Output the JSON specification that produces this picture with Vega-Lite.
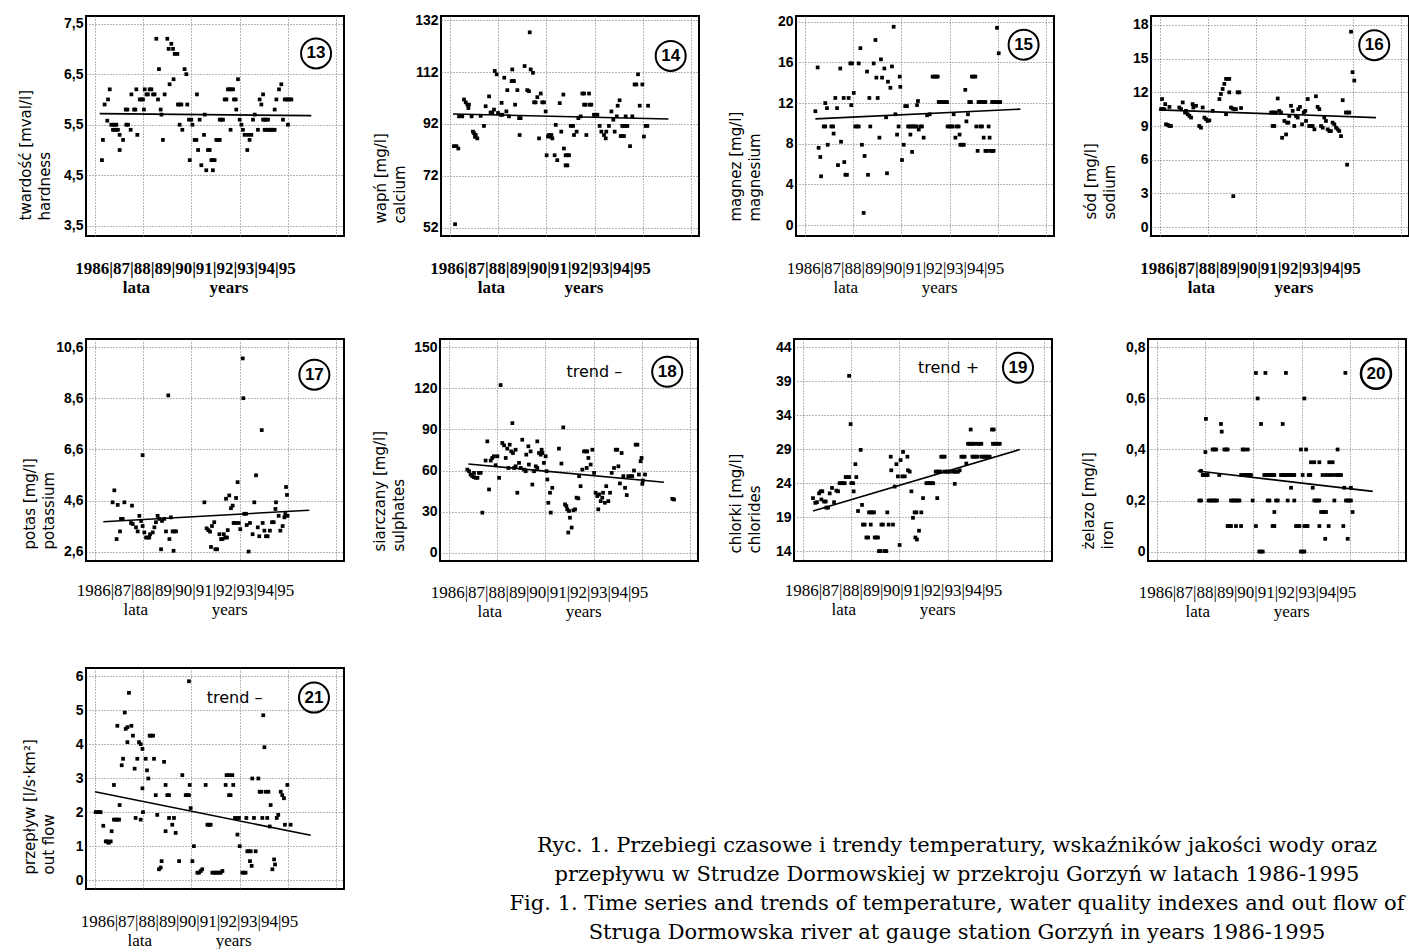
{
"$schema": "https://vega.github.io/schema/vega-lite/v6.json",
"background": "white",
"padding": {"left": 17, "top": 12, "right": 0, "bottom": 0},
"spacing": 42,
"config": {
  "view": {"stroke": "black", "strokeWidth": 2},
  "axis": {"gridColor": "#6f6f6f", "gridDash": [1, 2], "gridWidth": 1, "ticks": false, "domain": false, "labelColor": "black", "titleColor": "black", "labelOverlap": false, "labelFlush": false},
  "axisX": {"labels": false, "titleFont": "Liberation Serif", "titleFontSize": 17, "titleFontWeight": "normal", "titleX": 99, "titleY": 37, "titleAlign": "center", "titleBaseline": "alphabetic", "titleLineHeight": 19},
  "axisY": {"labelFont": "Liberation Sans Narrow, Liberation Sans", "labelFontSize": 14, "labelFontWeight": "bold", "labelPadding": 3, "labelOverlap": false, "titleFont": "DejaVu Sans", "titleFontSize": 15, "titleFontWeight": "normal", "titleAngle": 270, "titleAlign": "left", "titleBaseline": "alphabetic", "titleX": -56, "titleY": 204, "titleLineHeight": 19}
},
"datasets": {
"p13": [{"t":1986.05,"v":4.8},{"t":1986.10,"v":5.2},{"t":1986.19,"v":5.9},{"t":1986.33,"v":5.58},{"t":1986.37,"v":6.0},{"t":1986.46,"v":6.2},{"t":1986.54,"v":5.5},{"t":1986.63,"v":5.5},{"t":1986.72,"v":5.5},{"t":1986.81,"v":5.5},{"t":1986.63,"v":5.4},{"t":1986.72,"v":5.4},{"t":1986.81,"v":5.4},{"t":1986.89,"v":5.4},{"t":1986.98,"v":5.3},{"t":1987.16,"v":5.2},{"t":1986.98,"v":5.0},{"t":1987.30,"v":5.8},{"t":1987.39,"v":5.8},{"t":1987.33,"v":5.5},{"t":1987.42,"v":5.5},{"t":1987.56,"v":5.4},{"t":1987.60,"v":6.1},{"t":1987.86,"v":6.2},{"t":1987.74,"v":5.8},{"t":1987.81,"v":5.8},{"t":1987.91,"v":5.3},{"t":1988.04,"v":6.0},{"t":1988.12,"v":6.0},{"t":1988.21,"v":6.0},{"t":1988.26,"v":5.8},{"t":1988.30,"v":6.2},{"t":1988.39,"v":6.1},{"t":1988.47,"v":6.1},{"t":1988.56,"v":6.2},{"t":1988.65,"v":6.2},{"t":1988.74,"v":6.1},{"t":1988.82,"v":6.1},{"t":1988.91,"v":7.2},{"t":1989.00,"v":6.0},{"t":1989.05,"v":6.6},{"t":1989.14,"v":5.8},{"t":1989.18,"v":5.7},{"t":1989.26,"v":5.2},{"t":1989.35,"v":6.1},{"t":1989.49,"v":7.2},{"t":1989.56,"v":7.0},{"t":1989.70,"v":7.1},{"t":1989.79,"v":7.0},{"t":1989.88,"v":6.9},{"t":1990.02,"v":6.9},{"t":1989.61,"v":6.3},{"t":1989.82,"v":6.4},{"t":1990.05,"v":5.9},{"t":1990.14,"v":5.9},{"t":1990.23,"v":5.9},{"t":1990.14,"v":5.5},{"t":1990.28,"v":5.4},{"t":1990.40,"v":6.6},{"t":1990.49,"v":6.5},{"t":1990.54,"v":5.9},{"t":1990.63,"v":5.6},{"t":1990.75,"v":5.6},{"t":1990.67,"v":4.8},{"t":1990.81,"v":5.5},{"t":1990.93,"v":5.2},{"t":1991.02,"v":5.2},{"t":1991.05,"v":6.1},{"t":1991.11,"v":5.0},{"t":1991.19,"v":5.6},{"t":1991.28,"v":4.7},{"t":1991.42,"v":5.3},{"t":1991.46,"v":5.7},{"t":1991.54,"v":4.6},{"t":1991.63,"v":5.0},{"t":1991.72,"v":5.0},{"t":1991.81,"v":4.8},{"t":1991.89,"v":4.8},{"t":1991.98,"v":4.8},{"t":1991.89,"v":4.6},{"t":1992.07,"v":5.2},{"t":1992.16,"v":5.2},{"t":1992.25,"v":5.2},{"t":1992.25,"v":5.6},{"t":1992.33,"v":5.6},{"t":1992.42,"v":5.6},{"t":1992.51,"v":6.0},{"t":1992.60,"v":6.0},{"t":1992.68,"v":6.2},{"t":1992.77,"v":6.2},{"t":1992.86,"v":6.2},{"t":1992.95,"v":6.2},{"t":1992.82,"v":5.4},{"t":1993.00,"v":6.0},{"t":1993.09,"v":6.0},{"t":1993.12,"v":5.8},{"t":1993.21,"v":6.4},{"t":1993.30,"v":5.6},{"t":1993.39,"v":5.5},{"t":1993.47,"v":5.4},{"t":1993.56,"v":5.3},{"t":1993.70,"v":5.0},{"t":1993.74,"v":5.3},{"t":1993.82,"v":5.2},{"t":1993.91,"v":5.3},{"t":1994.00,"v":5.6},{"t":1994.09,"v":5.7},{"t":1994.26,"v":5.4},{"t":1994.35,"v":6.0},{"t":1994.44,"v":5.9},{"t":1994.53,"v":6.1},{"t":1994.53,"v":5.6},{"t":1994.61,"v":5.6},{"t":1994.70,"v":5.6},{"t":1994.79,"v":5.6},{"t":1994.61,"v":5.4},{"t":1994.70,"v":5.4},{"t":1994.79,"v":5.4},{"t":1994.88,"v":5.4},{"t":1994.96,"v":5.4},{"t":1995.05,"v":5.4},{"t":1995.14,"v":5.4},{"t":1995.14,"v":5.8},{"t":1995.23,"v":6.0},{"t":1995.37,"v":6.2},{"t":1995.49,"v":6.3},{"t":1995.58,"v":5.6},{"t":1995.67,"v":6.0},{"t":1995.75,"v":6.0},{"t":1995.84,"v":6.0},{"t":1995.93,"v":6.0},{"t":1996.02,"v":6.0},{"t":1995.84,"v":5.5}],
"r13": [{"t":1985.93,"v":5.72},{"t":1997.07,"v":5.68}],
"p14": [{"t":1985.89,"v":83.4},{"t":1986.02,"v":83.4},{"t":1986.12,"v":82.5},{"t":1985.95,"v":53.3},{"t":1986.16,"v":94.9},{"t":1986.33,"v":94.9},{"t":1986.42,"v":101.4},{"t":1986.51,"v":100.3},{"t":1986.60,"v":99.4},{"t":1986.68,"v":99.4},{"t":1986.65,"v":98.1},{"t":1986.82,"v":94.9},{"t":1986.89,"v":89.0},{"t":1986.95,"v":88.4},{"t":1987.04,"v":87.7},{"t":1987.12,"v":86.4},{"t":1987.00,"v":87.0},{"t":1987.30,"v":95.1},{"t":1987.47,"v":91.2},{"t":1987.56,"v":98.8},{"t":1987.74,"v":102.6},{"t":1987.82,"v":96.4},{"t":1987.91,"v":96.2},{"t":1988.00,"v":97.5},{"t":1988.04,"v":112.4},{"t":1988.14,"v":111.1},{"t":1988.21,"v":96.2},{"t":1988.35,"v":95.5},{"t":1988.44,"v":95.5},{"t":1988.40,"v":100.1},{"t":1988.54,"v":109.8},{"t":1988.65,"v":96.8},{"t":1988.70,"v":105.0},{"t":1988.79,"v":94.9},{"t":1988.93,"v":108.5},{"t":1989.00,"v":108.5},{"t":1989.05,"v":108.5},{"t":1988.96,"v":113.0},{"t":1989.11,"v":99.4},{"t":1989.23,"v":105.0},{"t":1989.32,"v":94.2},{"t":1989.40,"v":94.2},{"t":1989.35,"v":87.7},{"t":1989.61,"v":114.3},{"t":1989.75,"v":105.0},{"t":1989.84,"v":104.6},{"t":1989.88,"v":127.3},{"t":1989.93,"v":113.0},{"t":1990.05,"v":111.7},{"t":1990.11,"v":100.3},{"t":1990.19,"v":100.3},{"t":1990.28,"v":102.3},{"t":1990.37,"v":86.4},{"t":1990.46,"v":103.7},{"t":1990.54,"v":100.3},{"t":1990.63,"v":100.3},{"t":1990.72,"v":96.8},{"t":1990.77,"v":79.9},{"t":1990.84,"v":87.1},{"t":1990.89,"v":87.7},{"t":1990.95,"v":87.1},{"t":1991.02,"v":87.7},{"t":1991.07,"v":86.4},{"t":1991.19,"v":79.9},{"t":1991.25,"v":91.6},{"t":1991.33,"v":78.0},{"t":1991.46,"v":100.0},{"t":1991.54,"v":89.0},{"t":1991.65,"v":103.3},{"t":1991.68,"v":82.5},{"t":1991.77,"v":79.9},{"t":1991.86,"v":79.9},{"t":1991.95,"v":79.9},{"t":1991.77,"v":76.0},{"t":1991.86,"v":76.0},{"t":1992.04,"v":91.2},{"t":1992.16,"v":91.2},{"t":1992.21,"v":87.7},{"t":1992.35,"v":89.0},{"t":1992.44,"v":94.2},{"t":1992.56,"v":94.9},{"t":1992.65,"v":103.7},{"t":1992.74,"v":103.7},{"t":1992.74,"v":99.4},{"t":1992.82,"v":99.4},{"t":1992.86,"v":87.7},{"t":1993.00,"v":103.7},{"t":1993.04,"v":99.4},{"t":1993.12,"v":99.4},{"t":1993.26,"v":95.5},{"t":1993.35,"v":95.5},{"t":1993.44,"v":95.5},{"t":1993.56,"v":91.2},{"t":1993.65,"v":89.0},{"t":1993.79,"v":87.7},{"t":1993.88,"v":86.4},{"t":1993.91,"v":89.0},{"t":1994.05,"v":91.2},{"t":1994.18,"v":96.8},{"t":1994.28,"v":93.6},{"t":1994.35,"v":89.0},{"t":1994.46,"v":94.9},{"t":1994.51,"v":99.0},{"t":1994.61,"v":101.1},{"t":1994.67,"v":87.3},{"t":1994.75,"v":87.3},{"t":1994.84,"v":87.3},{"t":1994.75,"v":91.2},{"t":1994.84,"v":91.2},{"t":1994.93,"v":91.2},{"t":1995.02,"v":91.2},{"t":1994.93,"v":94.9},{"t":1995.16,"v":83.4},{"t":1995.28,"v":94.9},{"t":1995.40,"v":107.2},{"t":1995.49,"v":107.2},{"t":1995.58,"v":111.1},{"t":1995.67,"v":99.0},{"t":1995.81,"v":107.2},{"t":1995.89,"v":87.1},{"t":1995.98,"v":91.2},{"t":1996.07,"v":91.2},{"t":1996.11,"v":99.0}],
"r14": [{"t":1985.84,"v":95.8},{"t":1997.18,"v":93.9}],
"p15": [{"t":1986.23,"v":11.2},{"t":1986.35,"v":15.5},{"t":1986.40,"v":7.6},{"t":1986.49,"v":6.7},{"t":1986.53,"v":4.8},{"t":1986.67,"v":9.7},{"t":1986.75,"v":9.7},{"t":1986.75,"v":12.0},{"t":1986.84,"v":11.5},{"t":1986.88,"v":7.9},{"t":1987.07,"v":9.7},{"t":1987.16,"v":9.7},{"t":1987.19,"v":9.0},{"t":1987.28,"v":12.5},{"t":1987.37,"v":11.5},{"t":1987.42,"v":5.9},{"t":1987.54,"v":15.4},{"t":1987.58,"v":8.2},{"t":1987.72,"v":12.5},{"t":1987.75,"v":6.2},{"t":1987.81,"v":4.95},{"t":1987.89,"v":4.95},{"t":1987.98,"v":12.5},{"t":1988.07,"v":15.9},{"t":1988.16,"v":15.9},{"t":1988.12,"v":11.8},{"t":1988.25,"v":13.0},{"t":1988.33,"v":9.7},{"t":1988.42,"v":9.7},{"t":1988.51,"v":9.7},{"t":1988.51,"v":15.9},{"t":1988.60,"v":17.4},{"t":1988.68,"v":7.9},{"t":1988.77,"v":1.2},{"t":1988.82,"v":6.8},{"t":1988.95,"v":15.1},{"t":1989.00,"v":4.95},{"t":1989.07,"v":12.5},{"t":1989.12,"v":9.7},{"t":1989.30,"v":15.9},{"t":1989.39,"v":18.2},{"t":1989.44,"v":14.5},{"t":1989.51,"v":12.5},{"t":1989.60,"v":8.6},{"t":1989.68,"v":16.3},{"t":1989.74,"v":14.5},{"t":1989.86,"v":15.4},{"t":1989.95,"v":10.6},{"t":1990.00,"v":5.1},{"t":1990.05,"v":14.1},{"t":1990.18,"v":13.5},{"t":1990.26,"v":15.6},{"t":1990.35,"v":19.5},{"t":1990.44,"v":10.9},{"t":1990.53,"v":8.9},{"t":1990.61,"v":9.7},{"t":1990.67,"v":14.6},{"t":1990.70,"v":13.6},{"t":1990.79,"v":6.4},{"t":1990.88,"v":7.9},{"t":1990.96,"v":11.7},{"t":1991.05,"v":11.7},{"t":1991.11,"v":9.7},{"t":1991.19,"v":9.7},{"t":1991.28,"v":9.7},{"t":1991.37,"v":9.7},{"t":1991.46,"v":9.7},{"t":1991.54,"v":9.7},{"t":1991.23,"v":8.9},{"t":1991.32,"v":7.2},{"t":1991.58,"v":11.8},{"t":1991.63,"v":12.2},{"t":1991.67,"v":9.4},{"t":1991.75,"v":9.7},{"t":1991.84,"v":9.7},{"t":1991.93,"v":8.6},{"t":1992.11,"v":10.8},{"t":1992.25,"v":10.9},{"t":1992.40,"v":14.6},{"t":1992.49,"v":14.6},{"t":1992.58,"v":14.6},{"t":1992.67,"v":14.6},{"t":1992.72,"v":12.1},{"t":1992.81,"v":12.1},{"t":1992.89,"v":12.1},{"t":1992.98,"v":12.1},{"t":1993.07,"v":12.1},{"t":1993.16,"v":12.1},{"t":1993.19,"v":9.7},{"t":1993.28,"v":9.7},{"t":1993.37,"v":9.7},{"t":1993.46,"v":9.7},{"t":1993.51,"v":10.9},{"t":1993.60,"v":8.6},{"t":1993.68,"v":9.7},{"t":1993.77,"v":9.7},{"t":1993.82,"v":8.9},{"t":1993.86,"v":7.9},{"t":1993.95,"v":7.9},{"t":1994.04,"v":7.9},{"t":1994.12,"v":13.3},{"t":1994.18,"v":10.2},{"t":1994.26,"v":10.9},{"t":1994.33,"v":12.1},{"t":1994.42,"v":12.1},{"t":1994.47,"v":14.6},{"t":1994.56,"v":14.6},{"t":1994.65,"v":14.6},{"t":1994.70,"v":9.7},{"t":1994.77,"v":7.3},{"t":1994.82,"v":12.1},{"t":1994.91,"v":12.1},{"t":1995.00,"v":12.1},{"t":1995.09,"v":12.1},{"t":1995.18,"v":12.1},{"t":1994.91,"v":9.7},{"t":1995.00,"v":9.7},{"t":1995.09,"v":8.6},{"t":1995.18,"v":7.3},{"t":1995.26,"v":7.3},{"t":1995.35,"v":9.7},{"t":1995.40,"v":8.6},{"t":1995.44,"v":7.3},{"t":1995.53,"v":7.3},{"t":1995.61,"v":7.3},{"t":1995.53,"v":12.1},{"t":1995.61,"v":12.1},{"t":1995.70,"v":12.1},{"t":1995.79,"v":12.1},{"t":1995.88,"v":12.1},{"t":1995.96,"v":12.1},{"t":1995.79,"v":19.4},{"t":1995.88,"v":16.9}],
"r15": [{"t":1986.23,"v":10.45},{"t":1997.02,"v":11.4}],
"p16": [{"t":1985.79,"v":11.4},{"t":1985.96,"v":10.95},{"t":1986.18,"v":10.7},{"t":1985.74,"v":10.5},{"t":1985.82,"v":10.5},{"t":1985.91,"v":10.5},{"t":1986.00,"v":9.15},{"t":1986.09,"v":9.1},{"t":1986.18,"v":9.0},{"t":1986.26,"v":9.0},{"t":1986.70,"v":10.65},{"t":1986.79,"v":10.5},{"t":1987.00,"v":10.2},{"t":1987.05,"v":10.35},{"t":1986.88,"v":11.1},{"t":1987.14,"v":10.05},{"t":1987.23,"v":9.9},{"t":1987.32,"v":9.75},{"t":1987.40,"v":10.95},{"t":1987.44,"v":10.65},{"t":1987.58,"v":10.8},{"t":1987.75,"v":9.0},{"t":1987.84,"v":8.85},{"t":1987.93,"v":10.65},{"t":1988.02,"v":9.75},{"t":1988.11,"v":9.6},{"t":1988.19,"v":9.45},{"t":1988.28,"v":9.5},{"t":1988.46,"v":10.35},{"t":1988.81,"v":11.4},{"t":1988.89,"v":11.85},{"t":1988.98,"v":12.3},{"t":1989.07,"v":12.75},{"t":1989.16,"v":13.2},{"t":1989.25,"v":13.2},{"t":1989.33,"v":13.2},{"t":1989.33,"v":12.0},{"t":1989.16,"v":10.05},{"t":1989.42,"v":10.65},{"t":1989.51,"v":10.55},{"t":1989.60,"v":10.5},{"t":1989.68,"v":10.5},{"t":1989.54,"v":2.75},{"t":1989.77,"v":12.0},{"t":1989.86,"v":12.0},{"t":1989.95,"v":10.6},{"t":1991.53,"v":10.2},{"t":1991.61,"v":10.2},{"t":1991.70,"v":10.2},{"t":1991.79,"v":10.2},{"t":1991.61,"v":9.0},{"t":1991.70,"v":9.0},{"t":1991.88,"v":11.45},{"t":1991.96,"v":10.35},{"t":1992.05,"v":10.2},{"t":1992.11,"v":7.95},{"t":1992.23,"v":9.45},{"t":1992.32,"v":8.25},{"t":1992.37,"v":9.3},{"t":1992.44,"v":9.3},{"t":1992.49,"v":9.9},{"t":1992.58,"v":10.8},{"t":1992.67,"v":10.35},{"t":1992.75,"v":9.0},{"t":1992.84,"v":9.9},{"t":1992.93,"v":9.75},{"t":1992.96,"v":10.5},{"t":1993.05,"v":10.7},{"t":1993.16,"v":9.15},{"t":1993.25,"v":10.2},{"t":1993.33,"v":10.35},{"t":1993.37,"v":9.45},{"t":1993.46,"v":11.4},{"t":1993.54,"v":9.0},{"t":1993.63,"v":9.0},{"t":1993.72,"v":9.0},{"t":1993.81,"v":8.7},{"t":1993.89,"v":11.65},{"t":1993.98,"v":10.7},{"t":1994.07,"v":10.5},{"t":1994.16,"v":9.0},{"t":1994.25,"v":8.85},{"t":1994.33,"v":9.75},{"t":1994.42,"v":9.45},{"t":1994.51,"v":8.7},{"t":1994.60,"v":8.55},{"t":1994.68,"v":8.55},{"t":1994.77,"v":9.3},{"t":1994.86,"v":9.15},{"t":1994.95,"v":8.85},{"t":1995.04,"v":8.7},{"t":1995.12,"v":8.55},{"t":1995.21,"v":8.1},{"t":1995.30,"v":11.3},{"t":1995.47,"v":10.2},{"t":1995.56,"v":10.2},{"t":1995.65,"v":10.2},{"t":1995.53,"v":5.55},{"t":1995.74,"v":17.4},{"t":1995.82,"v":13.8},{"t":1995.91,"v":13.05}],
"r16": [{"t":1985.65,"v":10.44},{"t":1997.05,"v":9.75}],
"p17": [{"t":1986.70,"v":5.0},{"t":1986.61,"v":4.53},{"t":1986.88,"v":4.43},{"t":1986.82,"v":3.09},{"t":1987.05,"v":3.88},{"t":1987.14,"v":3.88},{"t":1987.00,"v":3.39},{"t":1987.23,"v":4.53},{"t":1987.63,"v":4.4},{"t":1987.58,"v":3.72},{"t":1987.67,"v":3.68},{"t":1987.84,"v":3.55},{"t":1987.93,"v":3.39},{"t":1988.02,"v":4.0},{"t":1988.11,"v":3.8},{"t":1988.19,"v":6.38},{"t":1988.19,"v":3.6},{"t":1988.28,"v":3.35},{"t":1988.37,"v":3.15},{"t":1988.46,"v":3.15},{"t":1988.54,"v":3.15},{"t":1988.58,"v":3.28},{"t":1988.72,"v":3.35},{"t":1988.81,"v":3.55},{"t":1988.89,"v":3.75},{"t":1988.98,"v":4.0},{"t":1989.07,"v":3.88},{"t":1989.16,"v":2.69},{"t":1989.21,"v":3.8},{"t":1989.33,"v":3.88},{"t":1989.42,"v":3.39},{"t":1989.54,"v":8.72},{"t":1989.60,"v":3.09},{"t":1989.68,"v":3.94},{"t":1989.77,"v":3.39},{"t":1989.86,"v":3.39},{"t":1989.95,"v":3.39},{"t":1989.82,"v":2.63},{"t":1991.44,"v":4.53},{"t":1991.56,"v":3.51},{"t":1991.65,"v":3.44},{"t":1991.74,"v":3.38},{"t":1991.84,"v":3.6},{"t":1991.79,"v":2.78},{"t":1991.96,"v":3.75},{"t":1992.02,"v":2.69},{"t":1992.11,"v":2.69},{"t":1992.23,"v":3.28},{"t":1992.32,"v":3.09},{"t":1992.40,"v":3.09},{"t":1992.46,"v":3.28},{"t":1992.54,"v":3.15},{"t":1992.63,"v":3.15},{"t":1992.58,"v":4.67},{"t":1992.67,"v":3.44},{"t":1992.75,"v":4.8},{"t":1992.84,"v":4.3},{"t":1992.93,"v":4.4},{"t":1992.98,"v":3.72},{"t":1993.07,"v":3.72},{"t":1993.11,"v":4.7},{"t":1993.19,"v":5.32},{"t":1993.25,"v":3.72},{"t":1993.33,"v":3.48},{"t":1993.46,"v":10.17},{"t":1993.49,"v":8.61},{"t":1993.54,"v":4.08},{"t":1993.63,"v":4.08},{"t":1993.67,"v":3.64},{"t":1993.77,"v":2.6},{"t":1993.84,"v":3.72},{"t":1993.98,"v":3.28},{"t":1994.07,"v":4.53},{"t":1994.16,"v":5.59},{"t":1994.25,"v":3.55},{"t":1994.33,"v":3.2},{"t":1994.46,"v":7.36},{"t":1994.51,"v":3.72},{"t":1994.60,"v":3.42},{"t":1994.68,"v":3.2},{"t":1994.77,"v":3.2},{"t":1994.89,"v":3.42},{"t":1995.00,"v":3.75},{"t":1995.09,"v":3.75},{"t":1995.18,"v":4.27},{"t":1995.21,"v":4.53},{"t":1995.35,"v":4.0},{"t":1995.44,"v":3.42},{"t":1995.56,"v":3.6},{"t":1995.65,"v":3.94},{"t":1995.70,"v":4.07},{"t":1995.74,"v":5.13},{"t":1995.79,"v":4.82},{"t":1995.82,"v":4.0}],
"r17": [{"t":1986.12,"v":3.77},{"t":1996.96,"v":4.22}],
"p18": [{"t":1986.65,"v":60.7},{"t":1986.74,"v":59.5},{"t":1986.82,"v":57.1},{"t":1986.91,"v":55.9},{"t":1987.00,"v":55.2},{"t":1987.09,"v":54.7},{"t":1987.18,"v":54.7},{"t":1987.00,"v":58.3},{"t":1987.26,"v":58.3},{"t":1987.35,"v":58.3},{"t":1987.44,"v":29.3},{"t":1987.61,"v":67.3},{"t":1987.70,"v":81.3},{"t":1987.79,"v":46.2},{"t":1987.88,"v":67.3},{"t":1987.96,"v":69.2},{"t":1988.05,"v":70.4},{"t":1988.14,"v":63.9},{"t":1988.23,"v":70.4},{"t":1988.32,"v":54.7},{"t":1988.40,"v":122.4},{"t":1988.49,"v":80.1},{"t":1988.58,"v":78.4},{"t":1988.67,"v":69.2},{"t":1988.75,"v":76.0},{"t":1988.81,"v":61.9},{"t":1988.88,"v":78.9},{"t":1988.96,"v":74.0},{"t":1989.05,"v":72.8},{"t":1989.02,"v":94.6},{"t":1989.11,"v":61.9},{"t":1989.19,"v":63.1},{"t":1989.19,"v":75.2},{"t":1989.28,"v":43.8},{"t":1989.37,"v":65.6},{"t":1989.46,"v":61.9},{"t":1989.54,"v":82.5},{"t":1989.63,"v":60.7},{"t":1989.72,"v":59.5},{"t":1989.75,"v":71.6},{"t":1989.86,"v":77.7},{"t":1989.89,"v":64.4},{"t":1989.98,"v":74.0},{"t":1990.07,"v":49.8},{"t":1990.16,"v":59.5},{"t":1990.25,"v":63.1},{"t":1990.33,"v":61.9},{"t":1990.33,"v":81.3},{"t":1990.42,"v":72.8},{"t":1990.51,"v":71.6},{"t":1990.60,"v":72.8},{"t":1990.56,"v":75.2},{"t":1990.68,"v":65.6},{"t":1990.77,"v":70.4},{"t":1990.82,"v":59.5},{"t":1990.86,"v":53.5},{"t":1990.91,"v":36.5},{"t":1991.00,"v":43.8},{"t":1991.04,"v":29.3},{"t":1991.12,"v":47.4},{"t":1991.47,"v":76.0},{"t":1991.60,"v":65.1},{"t":1991.70,"v":91.5},{"t":1991.79,"v":35.3},{"t":1991.86,"v":34.1},{"t":1991.91,"v":31.7},{"t":1992.00,"v":30.5},{"t":1991.96,"v":14.8},{"t":1992.05,"v":25.6},{"t":1992.14,"v":18.4},{"t":1992.23,"v":31.0},{"t":1992.32,"v":31.7},{"t":1992.40,"v":40.2},{"t":1992.49,"v":39.7},{"t":1992.53,"v":55.9},{"t":1992.61,"v":48.6},{"t":1992.70,"v":60.7},{"t":1992.79,"v":74.0},{"t":1992.88,"v":74.0},{"t":1992.96,"v":74.0},{"t":1992.93,"v":61.9},{"t":1993.02,"v":69.2},{"t":1993.14,"v":64.4},{"t":1993.23,"v":75.2},{"t":1993.32,"v":58.3},{"t":1993.40,"v":43.8},{"t":1993.49,"v":41.4},{"t":1993.58,"v":42.6},{"t":1993.54,"v":31.7},{"t":1993.67,"v":37.7},{"t":1993.75,"v":40.2},{"t":1993.79,"v":43.8},{"t":1993.89,"v":36.5},{"t":1993.96,"v":48.6},{"t":1994.07,"v":37.7},{"t":1994.16,"v":43.8},{"t":1994.25,"v":58.3},{"t":1994.37,"v":61.9},{"t":1994.46,"v":75.2},{"t":1994.54,"v":75.2},{"t":1994.60,"v":63.1},{"t":1994.68,"v":50.6},{"t":1994.77,"v":72.8},{"t":1994.86,"v":55.9},{"t":1994.95,"v":47.4},{"t":1995.04,"v":42.1},{"t":1995.12,"v":55.9},{"t":1995.25,"v":55.9},{"t":1995.33,"v":55.9},{"t":1995.42,"v":60.0},{"t":1995.51,"v":78.9},{"t":1995.60,"v":78.9},{"t":1995.68,"v":57.1},{"t":1995.77,"v":66.8},{"t":1995.82,"v":69.2},{"t":1995.86,"v":50.3},{"t":1995.89,"v":52.7},{"t":1996.00,"v":57.1},{"t":1997.44,"v":39.4},{"t":1997.53,"v":38.9}],
"r18": [{"t":1986.70,"v":64.8},{"t":1997.00,"v":51.5}],
"p19": [{"t":1986.21,"v":21.8},{"t":1986.33,"v":21.1},{"t":1986.42,"v":21.2},{"t":1986.53,"v":22.5},{"t":1986.61,"v":22.8},{"t":1986.70,"v":22.8},{"t":1986.65,"v":21.6},{"t":1986.79,"v":21.3},{"t":1986.88,"v":21.3},{"t":1986.91,"v":20.4},{"t":1987.00,"v":20.4},{"t":1987.09,"v":22.5},{"t":1987.21,"v":23.3},{"t":1987.32,"v":21.2},{"t":1987.44,"v":22.9},{"t":1987.53,"v":22.8},{"t":1987.61,"v":24.0},{"t":1987.70,"v":24.0},{"t":1987.79,"v":24.0},{"t":1987.88,"v":24.0},{"t":1987.93,"v":24.9},{"t":1988.02,"v":24.9},{"t":1988.11,"v":24.9},{"t":1988.11,"v":39.8},{"t":1988.19,"v":32.7},{"t":1988.23,"v":24.0},{"t":1988.32,"v":24.0},{"t":1988.35,"v":22.8},{"t":1988.44,"v":26.8},{"t":1988.49,"v":24.9},{"t":1988.58,"v":19.9},{"t":1988.72,"v":28.9},{"t":1988.79,"v":20.8},{"t":1988.84,"v":17.9},{"t":1988.93,"v":17.9},{"t":1989.02,"v":16.0},{"t":1989.11,"v":16.0},{"t":1989.16,"v":19.7},{"t":1989.25,"v":19.7},{"t":1989.33,"v":19.7},{"t":1989.42,"v":19.7},{"t":1989.25,"v":17.9},{"t":1989.46,"v":16.0},{"t":1989.54,"v":16.0},{"t":1989.63,"v":16.0},{"t":1989.68,"v":14.0},{"t":1989.77,"v":14.0},{"t":1989.81,"v":17.9},{"t":1989.89,"v":17.9},{"t":1989.98,"v":14.0},{"t":1990.07,"v":14.0},{"t":1990.12,"v":19.7},{"t":1990.19,"v":17.9},{"t":1990.30,"v":27.9},{"t":1990.33,"v":25.9},{"t":1990.42,"v":17.9},{"t":1990.51,"v":23.5},{"t":1990.60,"v":26.8},{"t":1990.68,"v":25.0},{"t":1990.77,"v":14.9},{"t":1990.82,"v":27.4},{"t":1990.91,"v":25.0},{"t":1990.95,"v":28.6},{"t":1991.04,"v":25.0},{"t":1991.18,"v":27.9},{"t":1991.21,"v":25.9},{"t":1991.30,"v":25.7},{"t":1991.39,"v":22.8},{"t":1991.47,"v":18.9},{"t":1991.56,"v":19.7},{"t":1991.65,"v":19.7},{"t":1991.60,"v":16.0},{"t":1991.68,"v":15.7},{"t":1991.79,"v":17.0},{"t":1991.91,"v":19.7},{"t":1992.00,"v":21.8},{"t":1992.18,"v":24.0},{"t":1992.26,"v":24.0},{"t":1992.35,"v":24.0},{"t":1992.44,"v":24.0},{"t":1992.53,"v":24.0},{"t":1992.67,"v":25.7},{"t":1992.75,"v":25.7},{"t":1992.84,"v":25.7},{"t":1992.93,"v":25.7},{"t":1992.75,"v":21.8},{"t":1992.96,"v":27.9},{"t":1993.05,"v":27.9},{"t":1993.14,"v":27.9},{"t":1993.14,"v":25.7},{"t":1993.23,"v":25.7},{"t":1993.32,"v":25.7},{"t":1993.40,"v":25.7},{"t":1993.58,"v":25.7},{"t":1993.67,"v":25.7},{"t":1993.75,"v":25.7},{"t":1993.84,"v":25.7},{"t":1993.93,"v":25.9},{"t":1993.67,"v":23.9},{"t":1994.02,"v":27.9},{"t":1994.11,"v":27.9},{"t":1994.19,"v":27.9},{"t":1994.28,"v":26.9},{"t":1994.37,"v":29.8},{"t":1994.46,"v":29.8},{"t":1994.54,"v":29.8},{"t":1994.63,"v":29.8},{"t":1994.72,"v":29.8},{"t":1994.51,"v":31.9},{"t":1994.60,"v":27.9},{"t":1994.68,"v":27.9},{"t":1994.77,"v":27.9},{"t":1994.86,"v":27.9},{"t":1994.89,"v":29.8},{"t":1994.98,"v":29.8},{"t":1995.07,"v":29.8},{"t":1995.07,"v":27.9},{"t":1995.16,"v":27.9},{"t":1995.25,"v":27.9},{"t":1995.33,"v":27.9},{"t":1995.42,"v":27.9},{"t":1995.51,"v":27.9},{"t":1995.63,"v":31.9},{"t":1995.72,"v":31.9},{"t":1995.68,"v":29.8},{"t":1995.77,"v":29.8},{"t":1995.86,"v":29.8},{"t":1995.95,"v":29.8},{"t":1996.04,"v":29.8}],
"r19": [{"t":1986.21,"v":19.9},{"t":1997.09,"v":28.95}],
"p20": [{"t":1987.91,"v":0.2},{"t":1988.00,"v":0.2},{"t":1988.00,"v":0.316},{"t":1988.09,"v":0.3},{"t":1988.18,"v":0.3},{"t":1988.26,"v":0.3},{"t":1988.35,"v":0.3},{"t":1988.23,"v":0.39},{"t":1988.26,"v":0.52},{"t":1988.40,"v":0.2},{"t":1988.49,"v":0.2},{"t":1988.58,"v":0.2},{"t":1988.67,"v":0.2},{"t":1988.75,"v":0.2},{"t":1988.84,"v":0.2},{"t":1988.61,"v":0.4},{"t":1988.70,"v":0.4},{"t":1988.79,"v":0.4},{"t":1988.96,"v":0.3},{"t":1989.05,"v":0.5},{"t":1989.09,"v":0.47},{"t":1989.23,"v":0.4},{"t":1989.32,"v":0.4},{"t":1989.40,"v":0.4},{"t":1989.40,"v":0.1},{"t":1989.49,"v":0.1},{"t":1989.58,"v":0.1},{"t":1989.58,"v":0.2},{"t":1989.67,"v":0.2},{"t":1989.75,"v":0.2},{"t":1989.84,"v":0.2},{"t":1989.93,"v":0.2},{"t":1990.02,"v":0.2},{"t":1989.84,"v":0.1},{"t":1990.11,"v":0.1},{"t":1990.19,"v":0.4},{"t":1990.28,"v":0.4},{"t":1990.46,"v":0.4},{"t":1990.11,"v":0.3},{"t":1990.19,"v":0.3},{"t":1990.28,"v":0.3},{"t":1990.37,"v":0.3},{"t":1990.46,"v":0.3},{"t":1990.54,"v":0.3},{"t":1990.63,"v":0.3},{"t":1990.72,"v":0.2},{"t":1990.89,"v":0.7},{"t":1990.89,"v":0.1},{"t":1990.98,"v":0.6},{"t":1991.16,"v":0.5},{"t":1991.07,"v":0.0},{"t":1991.16,"v":0.0},{"t":1991.25,"v":0.0},{"t":1991.39,"v":0.7},{"t":1991.33,"v":0.3},{"t":1991.42,"v":0.3},{"t":1991.51,"v":0.3},{"t":1991.60,"v":0.3},{"t":1991.68,"v":0.3},{"t":1991.77,"v":0.3},{"t":1991.86,"v":0.3},{"t":1991.51,"v":0.2},{"t":1991.60,"v":0.2},{"t":1991.86,"v":0.155},{"t":1991.77,"v":0.1},{"t":1991.86,"v":0.1},{"t":1991.95,"v":0.2},{"t":1992.04,"v":0.2},{"t":1992.21,"v":0.3},{"t":1992.30,"v":0.3},{"t":1992.39,"v":0.3},{"t":1992.47,"v":0.3},{"t":1992.56,"v":0.3},{"t":1992.65,"v":0.3},{"t":1992.74,"v":0.3},{"t":1992.82,"v":0.3},{"t":1992.91,"v":0.3},{"t":1992.30,"v":0.5},{"t":1992.47,"v":0.7},{"t":1992.56,"v":0.2},{"t":1992.74,"v":0.25},{"t":1992.91,"v":0.2},{"t":1993.00,"v":0.1},{"t":1993.09,"v":0.1},{"t":1993.18,"v":0.1},{"t":1993.26,"v":0.4},{"t":1993.26,"v":0.0},{"t":1993.35,"v":0.0},{"t":1993.44,"v":0.0},{"t":1993.35,"v":0.3},{"t":1993.44,"v":0.1},{"t":1993.53,"v":0.1},{"t":1993.61,"v":0.1},{"t":1993.44,"v":0.6},{"t":1993.53,"v":0.4},{"t":1993.67,"v":0.3},{"t":1993.75,"v":0.3},{"t":1993.79,"v":0.35},{"t":1993.96,"v":0.35},{"t":1994.23,"v":0.35},{"t":1993.88,"v":0.25},{"t":1993.96,"v":0.2},{"t":1994.05,"v":0.2},{"t":1994.14,"v":0.2},{"t":1994.23,"v":0.2},{"t":1994.23,"v":0.1},{"t":1994.32,"v":0.155},{"t":1994.40,"v":0.155},{"t":1994.49,"v":0.155},{"t":1994.58,"v":0.155},{"t":1994.40,"v":0.3},{"t":1994.58,"v":0.3},{"t":1994.75,"v":0.3},{"t":1994.93,"v":0.3},{"t":1995.11,"v":0.3},{"t":1995.19,"v":0.3},{"t":1995.28,"v":0.3},{"t":1995.37,"v":0.3},{"t":1994.54,"v":0.05},{"t":1994.72,"v":0.1},{"t":1994.75,"v":0.35},{"t":1994.93,"v":0.35},{"t":1995.02,"v":0.2},{"t":1995.19,"v":0.4},{"t":1995.49,"v":0.1},{"t":1995.54,"v":0.25},{"t":1995.60,"v":0.7},{"t":1995.63,"v":0.2},{"t":1995.72,"v":0.2},{"t":1995.81,"v":0.2},{"t":1995.89,"v":0.2},{"t":1995.72,"v":0.05},{"t":1995.89,"v":0.25},{"t":1995.98,"v":0.155}],
"r20": [{"t":1987.82,"v":0.316},{"t":1997.04,"v":0.236}],
"p21": [{"t":1985.72,"v":2.0},{"t":1985.81,"v":2.0},{"t":1985.89,"v":2.0},{"t":1985.98,"v":2.0},{"t":1986.12,"v":1.6},{"t":1986.25,"v":1.14},{"t":1986.33,"v":1.14},{"t":1986.42,"v":1.12},{"t":1986.51,"v":1.14},{"t":1986.39,"v":1.1},{"t":1986.56,"v":1.44},{"t":1986.68,"v":2.8},{"t":1986.68,"v":1.78},{"t":1986.77,"v":1.78},{"t":1986.86,"v":1.78},{"t":1986.95,"v":1.78},{"t":1986.86,"v":4.54},{"t":1986.98,"v":2.21},{"t":1987.09,"v":3.38},{"t":1987.16,"v":3.57},{"t":1987.25,"v":4.93},{"t":1987.30,"v":4.45},{"t":1987.39,"v":4.5},{"t":1987.39,"v":4.06},{"t":1987.47,"v":5.51},{"t":1987.60,"v":4.54},{"t":1987.68,"v":4.25},{"t":1987.77,"v":3.28},{"t":1987.82,"v":1.83},{"t":1987.91,"v":3.57},{"t":1988.00,"v":4.06},{"t":1988.09,"v":4.0},{"t":1988.18,"v":3.86},{"t":1988.09,"v":1.78},{"t":1988.18,"v":2.7},{"t":1988.21,"v":2.0},{"t":1988.35,"v":3.57},{"t":1988.42,"v":3.23},{"t":1988.49,"v":2.99},{"t":1988.56,"v":4.25},{"t":1988.65,"v":4.25},{"t":1988.74,"v":4.25},{"t":1988.79,"v":3.57},{"t":1988.88,"v":2.5},{"t":1988.96,"v":1.92},{"t":1989.05,"v":0.32},{"t":1989.14,"v":0.37},{"t":1989.19,"v":0.56},{"t":1989.32,"v":3.48},{"t":1989.40,"v":2.8},{"t":1989.40,"v":1.44},{"t":1989.49,"v":2.5},{"t":1989.58,"v":2.5},{"t":1989.58,"v":1.83},{"t":1989.75,"v":1.63},{"t":1989.84,"v":1.83},{"t":1989.93,"v":1.39},{"t":1990.11,"v":0.56},{"t":1990.28,"v":3.09},{"t":1990.46,"v":2.5},{"t":1990.54,"v":2.5},{"t":1990.63,"v":2.5},{"t":1990.63,"v":5.85},{"t":1990.67,"v":2.8},{"t":1990.72,"v":2.12},{"t":1990.81,"v":0.56},{"t":1990.89,"v":1.0},{"t":1991.07,"v":0.22},{"t":1991.16,"v":0.22},{"t":1991.25,"v":0.27},{"t":1991.33,"v":0.32},{"t":1991.51,"v":2.8},{"t":1991.60,"v":1.63},{"t":1991.68,"v":1.63},{"t":1991.77,"v":1.63},{"t":1991.86,"v":0.22},{"t":1991.95,"v":0.22},{"t":1992.04,"v":0.22},{"t":1992.12,"v":0.22},{"t":1992.21,"v":0.22},{"t":1992.30,"v":0.22},{"t":1992.39,"v":0.27},{"t":1992.56,"v":2.8},{"t":1992.61,"v":3.09},{"t":1992.74,"v":3.09},{"t":1992.74,"v":2.5},{"t":1992.82,"v":2.5},{"t":1992.91,"v":3.09},{"t":1992.96,"v":2.8},{"t":1993.05,"v":1.83},{"t":1993.14,"v":1.83},{"t":1993.18,"v":1.34},{"t":1993.26,"v":1.83},{"t":1993.30,"v":1.0},{"t":1993.44,"v":0.22},{"t":1993.53,"v":0.22},{"t":1993.61,"v":0.22},{"t":1993.65,"v":1.83},{"t":1993.70,"v":0.85},{"t":1993.79,"v":0.85},{"t":1993.88,"v":0.85},{"t":1993.84,"v":0.56},{"t":1993.93,"v":0.42},{"t":1993.96,"v":2.99},{"t":1994.05,"v":1.83},{"t":1994.14,"v":0.85},{"t":1994.28,"v":2.99},{"t":1994.35,"v":2.6},{"t":1994.44,"v":2.6},{"t":1994.49,"v":1.83},{"t":1994.54,"v":4.85},{"t":1994.60,"v":3.91},{"t":1994.67,"v":2.6},{"t":1994.75,"v":1.83},{"t":1994.81,"v":2.6},{"t":1994.88,"v":1.58},{"t":1994.93,"v":2.21},{"t":1995.02,"v":0.32},{"t":1995.11,"v":0.61},{"t":1995.16,"v":0.46},{"t":1995.25,"v":1.83},{"t":1995.33,"v":1.92},{"t":1995.46,"v":2.6},{"t":1995.54,"v":2.5},{"t":1995.63,"v":2.41},{"t":1995.68,"v":1.63},{"t":1995.81,"v":2.8},{"t":1995.98,"v":1.63}],
"r21": [{"t":1985.68,"v":2.6},{"t":1997.04,"v":1.32}],
"cap": [{"line":1,"text":"Ryc. 1. Przebiegi czasowe i trendy temperatury, wskaźników jakości wody oraz"},{"line":2,"text":"przepływu w Strudze Dormowskiej w przekroju Gorzyń w latach 1986-1995"},{"line":3,"text":"Fig. 1. Time series and trends of temperature, water quality indexes and out flow of"},{"line":4,"text":"Struga Dormowska river at gauge station Gorzyń in years 1986-1995"}]
},
"vconcat": [
{"hconcat": [
 {"width": 258, "height": 220,
  "layer": [
   {"data": {"name": "p13"}, "mark": {"type": "square", "filled": true, "size": 14, "color": "black", "opacity": 1},
    "encoding": {
     "x": {"field": "t", "type": "quantitative", "scale": {"domain": [1985.21, 1998.79], "nice": false, "zero": false}, "axis": {"values": [1985.68, 1988.21, 1990.74, 1993.32, 1995.84, 1998.37], "tickCount": 20, "title": ["1986|87|88|89|90|91|92|93|94|95", "lata\u00a0\u00a0\u00a0\u00a0\u00a0\u00a0\u00a0\u00a0\u00a0\u00a0\u00a0\u00a0\u00a0\u00a0years"], "titleFontWeight": "bold"}},
     "y": {"field": "v", "type": "quantitative", "scale": {"domain": [3.30, 7.65], "nice": false, "zero": false}, "axis": {"values": [3.5, 4.5, 5.5, 6.5, 7.5], "tickCount": 20, "labelExpr": "replace(format(datum.value, '.1f'), '.', ',')", "title": ["twardość [mval/l]", "hardness"]}}}},
   {"data": {"name": "r13"}, "mark": {"type": "line", "color": "black", "strokeWidth": 1.6}, "encoding": {"x": {"field": "t", "type": "quantitative"}, "y": {"field": "v", "type": "quantitative"}}},
   {"data": {"values": [{"label": "13"}]}, "mark": {"type": "point", "shape": "circle", "size": 900, "filled": false, "stroke": "black", "strokeWidth": 2, "opacity": 1}, "encoding": {"x": {"datum": 1997.32}, "y": {"datum": 6.91}}},
   {"data": {"values": [{"label": "13"}]}, "mark": {"type": "text", "font": "Liberation Sans Narrow, Liberation Sans", "fontSize": 17, "fontWeight": "bold", "color": "black"}, "encoding": {"x": {"datum": 1997.32}, "y": {"datum": 6.91}, "text": {"field": "label"}}}
  ]},
 {"width": 258, "height": 220,
  "layer": [
   {"data": {"name": "p14"}, "mark": {"type": "square", "filled": true, "size": 14, "color": "black", "opacity": 1},
    "encoding": {
     "x": {"field": "t", "type": "quantitative", "scale": {"domain": [1985.21, 1998.79], "nice": false, "zero": false}, "axis": {"values": [1985.68, 1988.21, 1990.74, 1993.32, 1995.84, 1998.37], "tickCount": 20, "title": ["1986|87|88|89|90|91|92|93|94|95", "lata\u00a0\u00a0\u00a0\u00a0\u00a0\u00a0\u00a0\u00a0\u00a0\u00a0\u00a0\u00a0\u00a0\u00a0years"], "titleFontWeight": "bold"}},
     "y": {"field": "v", "type": "quantitative", "scale": {"domain": [48.75, 133.6], "nice": false, "zero": false}, "axis": {"values": [52, 72, 92, 112, 132], "tickCount": 20, "format": ".0f", "title": ["wapń [mg/l]", "calcium"], "titleY": 207}}}},
   {"data": {"name": "r14"}, "mark": {"type": "line", "color": "black", "strokeWidth": 1.6}, "encoding": {"x": {"field": "t", "type": "quantitative"}, "y": {"field": "v", "type": "quantitative"}}},
   {"data": {"values": [{"label": "14"}]}, "mark": {"type": "point", "shape": "circle", "size": 900, "filled": false, "stroke": "black", "strokeWidth": 2, "opacity": 1}, "encoding": {"x": {"datum": 1997.30}, "y": {"datum": 118.2}}},
   {"data": {"values": [{"label": "14"}]}, "mark": {"type": "text", "font": "Liberation Sans Narrow, Liberation Sans", "fontSize": 17, "fontWeight": "bold", "color": "black"}, "encoding": {"x": {"datum": 1997.30}, "y": {"datum": 118.2}, "text": {"field": "label"}}}
  ]},
 {"width": 258, "height": 220,
  "layer": [
   {"data": {"name": "p15"}, "mark": {"type": "square", "filled": true, "size": 14, "color": "black", "opacity": 1},
    "encoding": {
     "x": {"field": "t", "type": "quantitative", "scale": {"domain": [1985.21, 1998.79], "nice": false, "zero": false}, "axis": {"values": [1985.68, 1988.21, 1990.74, 1993.32, 1995.84, 1998.37], "tickCount": 20, "title": ["1986|87|88|89|90|91|92|93|94|95", "lata\u00a0\u00a0\u00a0\u00a0\u00a0\u00a0\u00a0\u00a0\u00a0\u00a0\u00a0\u00a0\u00a0\u00a0\u00a0years"]}},
     "y": {"field": "v", "type": "quantitative", "scale": {"domain": [-1.07, 20.56], "nice": false, "zero": false}, "axis": {"values": [0, 4, 8, 12, 16, 20], "tickCount": 20, "format": ".0f", "title": ["magnez [mg/l]", "magnesium"], "titleY": 205}}}},
   {"data": {"name": "r15"}, "mark": {"type": "line", "color": "black", "strokeWidth": 1.6}, "encoding": {"x": {"field": "t", "type": "quantitative"}, "y": {"field": "v", "type": "quantitative"}}},
   {"data": {"values": [{"label": "15"}]}, "mark": {"type": "point", "shape": "circle", "size": 900, "filled": false, "stroke": "black", "strokeWidth": 2, "opacity": 1}, "encoding": {"x": {"datum": 1997.19}, "y": {"datum": 17.74}}},
   {"data": {"values": [{"label": "15"}]}, "mark": {"type": "text", "font": "Liberation Sans Narrow, Liberation Sans", "fontSize": 17, "fontWeight": "bold", "color": "black"}, "encoding": {"x": {"datum": 1997.19}, "y": {"datum": 17.74}, "text": {"field": "label"}}}
  ]},
 {"width": 258, "height": 220,
  "layer": [
   {"data": {"name": "p16"}, "mark": {"type": "square", "filled": true, "size": 14, "color": "black", "opacity": 1},
    "encoding": {
     "x": {"field": "t", "type": "quantitative", "scale": {"domain": [1985.21, 1998.79], "nice": false, "zero": false}, "axis": {"values": [1985.68, 1988.21, 1990.74, 1993.32, 1995.84, 1998.37], "tickCount": 20, "title": ["1986|87|88|89|90|91|92|93|94|95", "lata\u00a0\u00a0\u00a0\u00a0\u00a0\u00a0\u00a0\u00a0\u00a0\u00a0\u00a0\u00a0\u00a0\u00a0years"], "titleFontWeight": "bold"}},
     "y": {"field": "v", "type": "quantitative", "scale": {"domain": [-0.8, 18.8], "nice": false, "zero": false}, "axis": {"values": [0, 3, 6, 9, 12, 15, 18], "tickCount": 20, "format": ".0f", "title": ["sód [mg/l]", "sodium"], "titleY": 203}}}},
   {"data": {"name": "r16"}, "mark": {"type": "line", "color": "black", "strokeWidth": 1.6}, "encoding": {"x": {"field": "t", "type": "quantitative"}, "y": {"field": "v", "type": "quantitative"}}},
   {"data": {"values": [{"label": "16"}]}, "mark": {"type": "point", "shape": "circle", "size": 900, "filled": false, "stroke": "black", "strokeWidth": 2, "opacity": 1}, "encoding": {"x": {"datum": 1996.96}, "y": {"datum": 16.2}}},
   {"data": {"values": [{"label": "16"}]}, "mark": {"type": "text", "font": "Liberation Sans Narrow, Liberation Sans", "fontSize": 17, "fontWeight": "bold", "color": "black"}, "encoding": {"x": {"datum": 1996.96}, "y": {"datum": 16.2}, "text": {"field": "label"}}}
  ]}
], "spacing": 97, "bounds": "flush"},
{"vconcat": [
{"hconcat": [
 {"width": 258, "height": 222,
  "layer": [
   {"data": {"name": "p17"}, "mark": {"type": "square", "filled": true, "size": 14, "color": "black", "opacity": 1},
    "encoding": {
     "x": {"field": "t", "type": "quantitative", "scale": {"domain": [1985.21, 1998.79], "nice": false, "zero": false}, "axis": {"values": [1985.68, 1988.21, 1990.74, 1993.32, 1995.84, 1998.37], "tickCount": 20, "title": ["1986|87|88|89|90|91|92|93|94|95", "lata\u00a0\u00a0\u00a0\u00a0\u00a0\u00a0\u00a0\u00a0\u00a0\u00a0\u00a0\u00a0\u00a0\u00a0\u00a0years"], "titleY": 34}},
     "y": {"field": "v", "type": "quantitative", "scale": {"domain": [2.23, 10.93], "nice": false, "zero": false}, "axis": {"values": [2.6, 4.6, 6.6, 8.6, 10.6], "tickCount": 20, "labelExpr": "replace(format(datum.value, '.1f'), '.', ',')", "title": ["potas [mg/l]", "potassium"], "titleY": 210, "titleX": -52}}}},
   {"data": {"name": "r17"}, "mark": {"type": "line", "color": "black", "strokeWidth": 1.6}, "encoding": {"x": {"field": "t", "type": "quantitative"}, "y": {"field": "v", "type": "quantitative"}}},
   {"data": {"values": [{"label": "17"}]}, "mark": {"type": "point", "shape": "circle", "size": 900, "filled": false, "stroke": "black", "strokeWidth": 2, "opacity": 1}, "encoding": {"x": {"datum": 1997.23}, "y": {"datum": 9.53}}},
   {"data": {"values": [{"label": "17"}]}, "mark": {"type": "text", "font": "Liberation Sans Narrow, Liberation Sans", "fontSize": 17, "fontWeight": "bold", "color": "black"}, "encoding": {"x": {"datum": 1997.23}, "y": {"datum": 9.53}, "text": {"field": "label"}}}
  ]},
 {"width": 258, "height": 222,
  "layer": [
   {"data": {"name": "p18"}, "mark": {"type": "square", "filled": true, "size": 14, "color": "black", "opacity": 1},
    "encoding": {
     "x": {"field": "t", "type": "quantitative", "scale": {"domain": [1985.21, 1998.79], "nice": false, "zero": false}, "axis": {"values": [1985.68, 1988.21, 1990.74, 1993.32, 1995.84, 1998.37], "tickCount": 20, "title": ["1986|87|88|89|90|91|92|93|94|95", "lata\u00a0\u00a0\u00a0\u00a0\u00a0\u00a0\u00a0\u00a0\u00a0\u00a0\u00a0\u00a0\u00a0\u00a0\u00a0years"], "titleY": 36}},
     "y": {"field": "v", "type": "quantitative", "scale": {"domain": [-6, 156], "nice": false, "zero": false}, "axis": {"values": [0, 30, 60, 90, 120, 150], "tickCount": 20, "format": ".0f", "title": ["siarczany [mg/l]", "sulphates"], "titleY": 212, "titleX": -56}}}},
   {"data": {"name": "r18"}, "mark": {"type": "line", "color": "black", "strokeWidth": 1.6}, "encoding": {"x": {"field": "t", "type": "quantitative"}, "y": {"field": "v", "type": "quantitative"}}},
   {"data": {"values": [{"label": "18"}]}, "mark": {"type": "point", "shape": "circle", "size": 900, "filled": false, "stroke": "black", "strokeWidth": 2, "opacity": 1}, "encoding": {"x": {"datum": 1997.17}, "y": {"datum": 132.1}}},
   {"data": {"values": [{"label": "18"}]}, "mark": {"type": "text", "font": "Liberation Sans Narrow, Liberation Sans", "fontSize": 17, "fontWeight": "bold", "color": "black"}, "encoding": {"x": {"datum": 1997.17}, "y": {"datum": 132.1}, "text": {"field": "label"}}},
   {"data": {"values": [{"label": "trend –"}]}, "mark": {"type": "text", "font": "DejaVu Sans", "fontSize": 16, "align": "right", "color": "black"}, "encoding": {"x": {"datum": 1994.8}, "y": {"datum": 132.1}, "text": {"field": "label"}}}
  ]},
 {"width": 258, "height": 222,
  "layer": [
   {"data": {"name": "p19"}, "mark": {"type": "square", "filled": true, "size": 14, "color": "black", "opacity": 1},
    "encoding": {
     "x": {"field": "t", "type": "quantitative", "scale": {"domain": [1985.21, 1998.79], "nice": false, "zero": false}, "axis": {"values": [1985.68, 1988.21, 1990.74, 1993.32, 1995.84, 1998.37], "tickCount": 20, "title": ["1986|87|88|89|90|91|92|93|94|95", "lata\u00a0\u00a0\u00a0\u00a0\u00a0\u00a0\u00a0\u00a0\u00a0\u00a0\u00a0\u00a0\u00a0\u00a0\u00a0years"], "titleY": 34}},
     "y": {"field": "v", "type": "quantitative", "scale": {"domain": [12.54, 45.23], "nice": false, "zero": false}, "axis": {"values": [14, 19, 24, 29, 34, 39, 44], "tickCount": 20, "format": ".0f", "title": ["chlorki [mg/l]", "chlorides"], "titleY": 214, "titleX": -54}}}},
   {"data": {"name": "r19"}, "mark": {"type": "line", "color": "black", "strokeWidth": 1.6}, "encoding": {"x": {"field": "t", "type": "quantitative"}, "y": {"field": "v", "type": "quantitative"}}},
   {"data": {"values": [{"label": "19"}]}, "mark": {"type": "point", "shape": "circle", "size": 900, "filled": false, "stroke": "black", "strokeWidth": 2, "opacity": 1}, "encoding": {"x": {"datum": 1997.0}, "y": {"datum": 40.99}}},
   {"data": {"values": [{"label": "19"}]}, "mark": {"type": "text", "font": "Liberation Sans Narrow, Liberation Sans", "fontSize": 17, "fontWeight": "bold", "color": "black"}, "encoding": {"x": {"datum": 1997.0}, "y": {"datum": 40.99}, "text": {"field": "label"}}},
   {"data": {"values": [{"label": "trend +"}]}, "mark": {"type": "text", "font": "DejaVu Sans", "fontSize": 16, "align": "right", "color": "black"}, "encoding": {"x": {"datum": 1994.95}, "y": {"datum": 40.99}, "text": {"field": "label"}}}
  ]},
 {"width": 258, "height": 222,
  "layer": [
   {"data": {"name": "p20"}, "mark": {"type": "square", "filled": true, "size": 14, "color": "black", "opacity": 1},
    "encoding": {
     "x": {"field": "t", "type": "quantitative", "scale": {"domain": [1985.21, 1998.79], "nice": false, "zero": false}, "axis": {"values": [1985.68, 1988.21, 1990.74, 1993.32, 1995.84, 1998.37], "tickCount": 20, "title": ["1986|87|88|89|90|91|92|93|94|95", "lata\u00a0\u00a0\u00a0\u00a0\u00a0\u00a0\u00a0\u00a0\u00a0\u00a0\u00a0\u00a0\u00a0\u00a0\u00a0years"], "titleY": 36}},
     "y": {"field": "v", "type": "quantitative", "scale": {"domain": [-0.037, 0.833], "nice": false, "zero": false}, "axis": {"values": [0, 0.2, 0.4, 0.6, 0.8], "tickCount": 20, "labelExpr": "datum.value == 0 ? '0' : replace(format(datum.value, '.1f'), '.', ',')", "title": ["żelazo [mg/l]", "iron"], "titleY": 210, "titleX": -55}}}},
   {"data": {"name": "r20"}, "mark": {"type": "line", "color": "black", "strokeWidth": 1.6}, "encoding": {"x": {"field": "t", "type": "quantitative"}, "y": {"field": "v", "type": "quantitative"}}},
   {"data": {"values": [{"label": "20"}]}, "mark": {"type": "point", "shape": "circle", "size": 900, "filled": false, "stroke": "black", "strokeWidth": 2.5, "opacity": 1}, "encoding": {"x": {"datum": 1997.21}, "y": {"datum": 0.697}}},
   {"data": {"values": [{"label": "20"}]}, "mark": {"type": "text", "font": "Liberation Sans Narrow, Liberation Sans", "fontSize": 17, "fontWeight": "bold", "color": "black"}, "encoding": {"x": {"datum": 1997.21}, "y": {"datum": 0.697}, "text": {"field": "label"}}}
  ]}
], "spacing": 96, "bounds": "flush"},
{"hconcat": [
 {"width": 258, "height": 221,
  "layer": [
   {"data": {"name": "p21"}, "mark": {"type": "square", "filled": true, "size": 14, "color": "black", "opacity": 1},
    "encoding": {
     "x": {"field": "t", "type": "quantitative", "scale": {"domain": [1985.21, 1998.79], "nice": false, "zero": false}, "axis": {"values": [1985.68, 1988.21, 1990.74, 1993.32, 1995.84, 1998.37], "tickCount": 20, "title": ["1986|87|88|89|90|91|92|93|94|95", "lata\u00a0\u00a0\u00a0\u00a0\u00a0\u00a0\u00a0\u00a0\u00a0\u00a0\u00a0\u00a0\u00a0\u00a0\u00a0years"], "titleY": 37, "titleX": 103}},
     "y": {"field": "v", "type": "quantitative", "scale": {"domain": [-0.26, 6.24], "nice": false, "zero": false}, "axis": {"values": [0, 1, 2, 3, 4, 5, 6], "tickCount": 20, "format": ".0f", "title": ["przepływ [l/s·km²]", "out flow"], "titleY": 206, "titleX": -52}}}},
   {"data": {"name": "r21"}, "mark": {"type": "line", "color": "black", "strokeWidth": 1.6}, "encoding": {"x": {"field": "t", "type": "quantitative"}, "y": {"field": "v", "type": "quantitative"}}},
   {"data": {"values": [{"label": "21"}]}, "mark": {"type": "point", "shape": "circle", "size": 900, "filled": false, "stroke": "black", "strokeWidth": 2, "opacity": 1}, "encoding": {"x": {"datum": 1997.21}, "y": {"datum": 5.37}}},
   {"data": {"values": [{"label": "21"}]}, "mark": {"type": "text", "font": "Liberation Sans Narrow, Liberation Sans", "fontSize": 17, "fontWeight": "bold", "color": "black"}, "encoding": {"x": {"datum": 1997.21}, "y": {"datum": 5.37}, "text": {"field": "label"}}},
   {"data": {"values": [{"label": "trend –"}]}, "mark": {"type": "text", "font": "DejaVu Sans", "fontSize": 16, "align": "right", "color": "black"}, "encoding": {"x": {"datum": 1994.5}, "y": {"datum": 5.37}, "text": {"field": "label"}}}
  ]},
 {"width": 1186, "height": 280,
  "view": {"stroke": null},
  "data": {"name": "cap"},
  "mark": {"type": "text", "font": "DejaVu Serif", "fontSize": 21, "baseline": "alphabetic", "align": "center", "color": "black"},
  "encoding": {
   "x": {"datum": 0.5, "scale": {"domain": [0, 1]}, "axis": null},
   "y": {"field": "line", "type": "quantitative", "scale": {"domain": [-5.34, 4.31], "reverse": true, "nice": false, "zero": false}, "axis": null},
   "text": {"field": "text"}
  }}
], "spacing": 20, "bounds": "flush"}
], "spacing": 47}
]
}
